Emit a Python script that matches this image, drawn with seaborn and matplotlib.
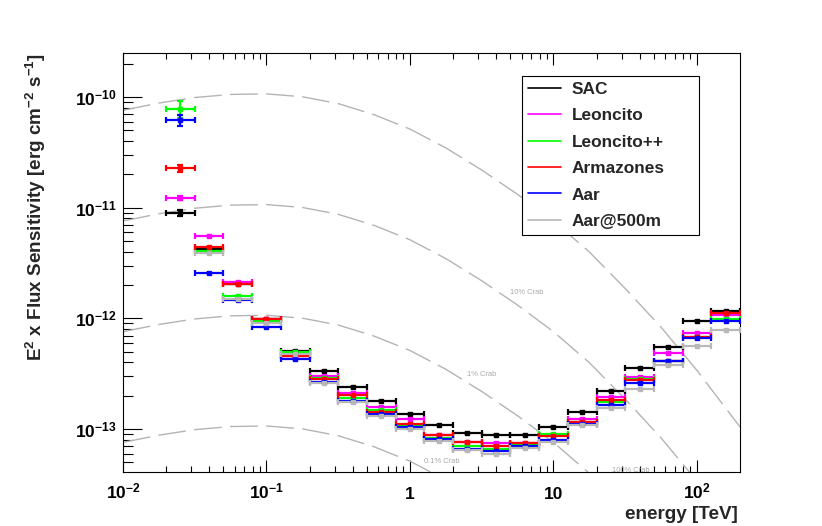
import numpy as np
import seaborn as sns
import matplotlib.pyplot as plt
from matplotlib.lines import Line2D
from matplotlib.ticker import NullFormatter, LogLocator

# log10(E/TeV) of the bin edges, 0.2 decade bins
log_e_lo = [-1.7, -1.5, -1.3, -1.1, -0.9, -0.7, -0.5, -0.3, -0.1, 0.1,
            0.3, 0.5, 0.7, 0.9, 1.1, 1.3, 1.5, 1.7, 1.9, 2.1]
log_e_hi = [-1.5, -1.3, -1.1, -0.9, -0.7, -0.5, -0.3, -0.1, 0.1, 0.3,
            0.5, 0.7, 0.9, 1.1, 1.3, 1.5, 1.7, 1.9, 2.1, 2.3]

# E^2 x flux sensitivity [erg cm^-2 s^-1]
sac = [8.9e-12, 4.27e-12, 2.05e-12, 9.8e-13, 5.08e-13, 3.35e-13, 2.42e-13, 1.81e-13, 1.36e-13, 1.09e-13,
       9.16e-14, 8.9e-14, 8.85e-14, 1.04e-13, 1.42e-13, 2.22e-13, 3.54e-13, 5.48e-13, 9.5e-13, 1.16e-12]
leoncito = [1.22e-11, 5.55e-12, 2.15e-12, 9.9e-13, 4.6e-13, 3.02e-13, 2.1e-13, 1.57e-13, 1.23e-13, 8.9e-14,
            7.65e-14, 7.55e-14, 7.55e-14, 8.8e-14, 1.23e-13, 1.94e-13, 2.98e-13, 4.9e-13, 7.43e-13, 1.07e-12]
leoncito_pp = [7.8e-11, 4.1e-12, 1.59e-12, 9.5e-13, 4.98e-13, 2.92e-13, 1.9e-13, 1.48e-13, 1.07e-13, 8.3e-14,
               7.0e-14, 6.55e-14, 7.4e-14, 8.95e-14, 1.15e-13, 1.77e-13, 2.85e-13, 4.13e-13, 6.8e-13, 9.93e-13]
armazones = [2.27e-11, 4.45e-12, 2.03e-12, 9.93e-13, 4.57e-13, 2.82e-13, 2.04e-13, 1.43e-13, 1.11e-13, 8.8e-14,
             7.6e-14, 7.0e-14, 7.5e-14, 8.6e-14, 1.17e-13, 1.83e-13, 2.78e-13, 4.12e-13, 6.75e-13, 1.13e-12]
aar = [6.2e-11, 2.59e-12, 1.47e-12, 8.3e-13, 4.33e-13, 2.66e-13, 1.8e-13, 1.37e-13, 1.04e-13, 8.1e-14,
       6.6e-14, 6.38e-14, 7.05e-14, 7.98e-14, 1.10e-13, 1.64e-13, 2.59e-13, 4.09e-13, 6.7e-13, 9.47e-13]
aar_500m = [np.nan, 3.87e-12, 1.51e-12, 9.0e-13, 4.75e-13, 2.59e-13, 1.77e-13, 1.32e-13, 1.0e-13, 7.87e-14,
            6.5e-14, 6.0e-14, 6.8e-14, 7.7e-14, 1.08e-13, 1.55e-13, 2.29e-13, 3.82e-13, 5.62e-13, 7.85e-13]

names = ['SAC', 'Leoncito', 'Leoncito++', 'Armazones', 'Aar', 'Aar@500m']
colors = ['#000000', '#ff00ff', '#00ff00', '#ff0000', '#0000ff', '#b8b8b8']
# relative error of the lowest energy bin (the others are too small to see)
first_bin_err = [0.06, 0.04, 0.17, 0.08, 0.11, 0.0]

# 100% Crab reference curve (log10 E, log10 E^2F)
crab_log_e = [-2.0, -1.75, -1.5, -1.25, -1.0, -0.75, -0.5, -0.25, 0.0, 0.25,
              0.5, 0.75, 1.0, 1.25, 1.5, 1.75, 2.0, 2.3]
crab_log_flux = [-10.12, -10.055, -10.005, -9.977, -9.972, -9.998, -10.06, -10.16, -10.29, -10.46,
                 -10.66, -10.88, -11.12, -11.40, -11.73, -12.08, -12.47, -12.98]
crab_fractions = [1.0, 0.1, 0.01, 0.001]
crab_labels = ['100% Crab', '10% Crab', '1% Crab', '0.1% Crab']
crab_label_e = [25.6, 5.0, 2.51, 1.26]
crab_label_flux = [4.2e-14, 1.7e-12, 3.1e-13, 5.05e-14]

sns.set_theme(style='ticks')
plt.rcParams['font.family'] = ['Liberation Sans', 'DejaVu Sans']
plt.rcParams['font.weight'] = 'bold'
plt.rcParams['mathtext.fontset'] = 'custom'
plt.rcParams['mathtext.rm'] = 'Liberation Sans:bold'
plt.rcParams['mathtext.it'] = 'Liberation Sans:bold'
plt.rcParams['mathtext.bf'] = 'Liberation Sans:bold'
plt.rcParams['mathtext.sf'] = 'Liberation Sans:bold'
plt.rcParams['mathtext.default'] = 'rm'
plt.rcParams['axes.linewidth'] = 0.8

fig = plt.figure(figsize=(8.22, 5.26), dpi=100)
ax = fig.add_axes([0.14964, 0.10323, 0.75061, 0.79658])
ax.set_xscale('log')
ax.set_yscale('log')

# crab reference curves
crab_e = 10 ** np.array(crab_log_e)
crab_flux = 10 ** np.array(crab_log_flux)
for frac in crab_fractions:
    sns.lineplot(x=crab_e, y=frac * crab_flux, ax=ax, color='#b4b4b4', lw=1.0,
                 linestyle=(0, (20, 6)), zorder=1)
for lab, le, lf in zip(crab_labels, crab_label_e, crab_label_flux):
    ax.text(le, lf, lab, fontsize=5.4, color='#a8a8a8', fontweight='normal',
            ha='left', va='center', clip_on=True, zorder=1)

# sensitivity curves as binned points
e_lo = 10 ** np.array(log_e_lo)
e_hi = 10 ** np.array(log_e_hi)
e_mid = 10 ** ((np.array(log_e_lo) + np.array(log_e_hi)) / 2)
for name, col, vals, err0 in zip(names, colors, [sac, leoncito, leoncito_pp, armazones, aar, aar_500m],
                                 first_bin_err):
    vals = np.array(vals)
    yerr = np.zeros(len(vals))
    yerr[0] = err0 * vals[0]
    ax.errorbar(e_mid, vals, xerr=[e_mid - e_lo, e_hi - e_mid], yerr=yerr, fmt='s', color=col,
                ms=2.8, lw=1.6, capsize=2.5, capthick=1.6, zorder=3)

ax.set_xlim(1e-2, 10 ** 2.3)
ax.set_ylim(10 ** -13.385, 10 ** -9.6)

ax.set_xticks([1e-2, 1e-1, 1, 10, 100], labels=['$10^{-2}$', '$10^{-1}$', '1', '10', '$10^{2}$'])
ax.set_yticks([1e-13, 1e-12, 1e-11, 1e-10], labels=['$10^{-13}$', '$10^{-12}$', '$10^{-11}$', '$10^{-10}$'])
ax.xaxis.set_minor_locator(LogLocator(base=10, subs=np.arange(2, 10)))
ax.yaxis.set_minor_locator(LogLocator(base=10, subs=np.arange(2, 10)))
ax.xaxis.set_minor_formatter(NullFormatter())
ax.yaxis.set_minor_formatter(NullFormatter())
ax.tick_params(which='both', direction='in', top=True, right=False, color='black', width=0.8,
               labelsize=12.5, labelcolor='black')
ax.tick_params(axis='x', which='major', length=8.6, pad=19.5)
ax.tick_params(axis='x', which='minor', length=4.0)
ax.tick_params(axis='y', which='major', length=13.7, pad=4.3)
ax.tick_params(axis='y', which='minor', length=7.2)
plt.setp(ax.get_xticklabels(), va='baseline')
for sp in ax.spines.values():
    sp.set_color('black')

fig.text(738 / 822, 1 - 506 / 526, 'energy [TeV]', fontsize=13.6, ha='right', va='top')
fig.text(36 / 822, 1 - 53 / 526, 'E$^{2}$ x Flux Sensitivity [erg cm$^{-2}$ s$^{-1}$]', fontsize=13.6,
         rotation=90, ha='center', va='top')

handles = [Line2D([], [], color=c, lw=1.2) for c in colors]
leg = ax.legend(handles, names, loc='upper left', bbox_to_anchor=(0.6467, 0.505, 0.2868, 0.44),
                mode='expand', fontsize=12.4, frameon=True, fancybox=False, shadow=False,
                borderpad=0.35, labelspacing=0.66, handlelength=1.9, handletextpad=0.65,
                borderaxespad=0.0)
leg.get_frame().set_edgecolor('black')
leg.get_frame().set_linewidth(0.8)
leg.get_frame().set_alpha(1.0)

fig.savefig('out.png', dpi=100)
